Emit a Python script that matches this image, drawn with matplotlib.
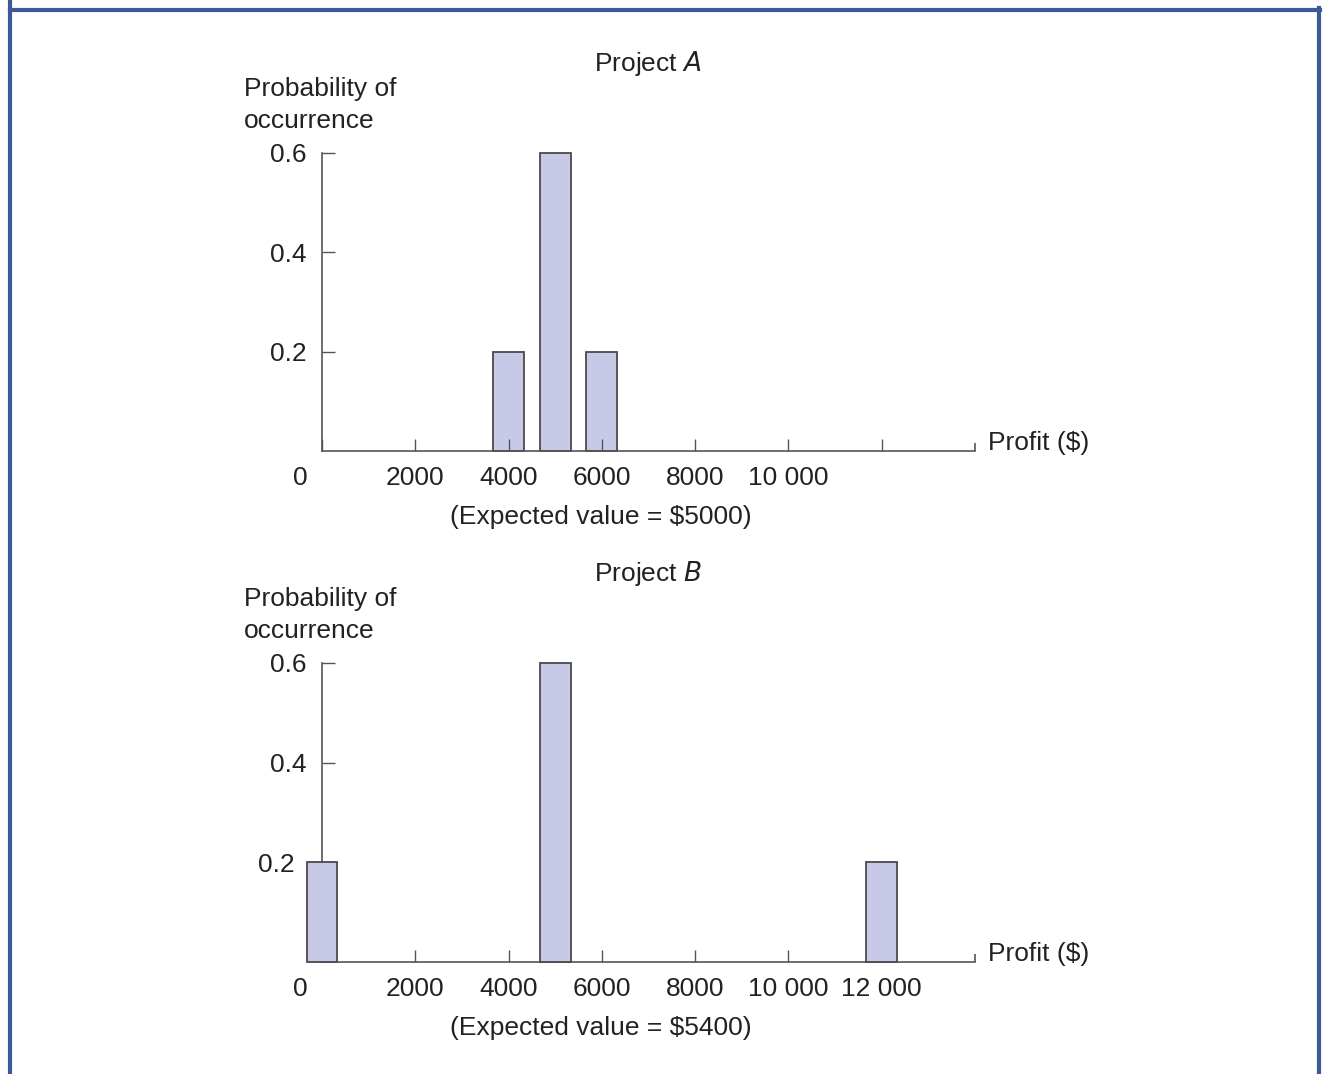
import matplotlib.pyplot as plt
import matplotlib.transforms as mtransforms
from matplotlib.lines import Line2D

plt.rcParams["font.family"] = ["Liberation Sans", "DejaVu Sans"]

# data
profit_a = [4000, 5000, 6000]
prob_a = [0.2, 0.6, 0.2]
profit_b = [0, 5000, 12000]
prob_b = [0.2, 0.6, 0.2]
xticks = [0, 2000, 4000, 6000, 8000, 10000, 12000]
xlabels_a = ["0", "2000", "4000", "6000", "8000", "10 000", ""]
xlabels_b = ["0", "2000", "4000", "6000", "8000", "10 000", "12 000"]
yticks = [0.2, 0.4, 0.6]
ylabels = ["0.2", "0.4", "0.6"]

W, H = 1327, 1074
fig = plt.figure(figsize=(W / 100, H / 100), dpi=100)
FS = 19
GRAY = "#555555"
BAR = "#c8c9e6"
TXT = "#222222"


def px(x, y):
    return x / W, 1 - y / H


def shift(label, dx):
    label.set_transform(label.get_transform() +
                        mtransforms.ScaledTranslation(dx / 100, 0, fig.dpi_scale_trans))


def panel(top, base, profits, probs, xlabels, name, ev, bar_z):
    x0, y0 = px(322, base)
    x1, y1 = px(975, top)
    ax = fig.add_axes([x0, y0, x1 - x0, y1 - y0])
    ax.bar(profits, probs, width=660, color=BAR, edgecolor="#4a4a4a",
           linewidth=1.3, clip_on=False, zorder=bar_z)
    ax.set_xlim(0, 14000)
    ax.set_ylim(0, 0.6)
    for s in ["top", "right"]:
        ax.spines[s].set_visible(False)
    for s in ["left", "bottom"]:
        ax.spines[s].set_color(GRAY)
        ax.spines[s].set_linewidth(1.2)
        ax.spines[s].set_zorder(3)
    ax.set_xticks(xticks)
    ax.set_xticklabels(xlabels)
    ax.set_yticks(yticks)
    ax.set_yticklabels(ylabels)
    ax.set_xticks([14000], minor=True)
    ax.tick_params(axis="x", which="minor", direction="in", length=6,
                   color=GRAY, width=1.2)
    ax.tick_params(axis="both", direction="in", length=9, width=1.0,
                   color=GRAY, labelsize=FS, labelcolor=TXT)
    ax.tick_params(axis="x", pad=11)
    ax.tick_params(axis="y", pad=11)
    # the "0" label sits left of the origin
    shift(ax.get_xticklabels()[0], -22)

    ty = top - 90
    fig.text(*px(648, ty), "Project $\\mathit{" + name + "}$", ha="center",
             va="center", fontsize=FS, color=TXT)
    fig.text(*px(244, ty + 42), "Probability of\noccurrence", ha="left",
             va="center", fontsize=FS, color=TXT, linespacing=1.45)
    fig.text(*px(988, base - 8), "Profit ($)", ha="left", va="center",
             fontsize=FS, color=TXT)
    fig.text(*px(601, base + 66), f"(Expected value = ${ev})", ha="center",
             va="center", fontsize=FS, color=TXT)
    return ax


panel(153, 451, profit_a, prob_a, xlabels_a, "A", 5000, 1)
ax_b = panel(663, 962, profit_b, prob_b, xlabels_b, "B", 5400, 4)
# keep "0.2" clear of the bar at zero profit
shift(ax_b.get_yticklabels()[0], -12)

# blue frame
BLUE = "#3d5a98"
fig.add_artist(Line2D([10 / W, 10 / W], [0, 1], color=BLUE, lw=3,
                      transform=fig.transFigure))
fig.add_artist(Line2D([1319 / W, 1319 / W], [0, 1 - 8 / H], color=BLUE, lw=3,
                      transform=fig.transFigure))
fig.add_artist(Line2D([10 / W, 1320 / W], [1 - 10 / H, 1 - 10 / H], color=BLUE,
                      lw=3, transform=fig.transFigure))

fig.savefig("out.png", dpi=100)
